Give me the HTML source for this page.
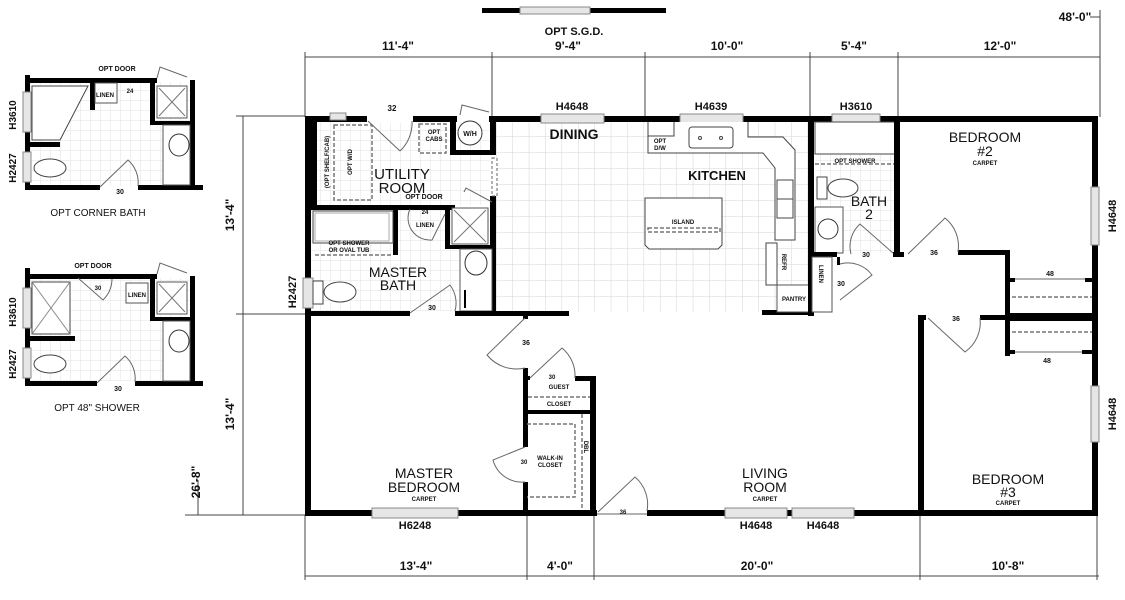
<!DOCTYPE html>
<html><head><meta charset="utf-8"><style>
html,body{margin:0;padding:0;background:#fff;}
svg{display:block;font-family:"Liberation Sans Narrow","Liberation Sans",sans-serif;}
.w{fill:#000}
.t{font-weight:bold;fill:#111;text-anchor:middle}
.t[font-weight="normal"]{font-weight:normal}
.thin{stroke:#444;stroke-width:1;fill:none}
.win{fill:#e6e6e6;stroke:#888;stroke-width:1}
.door{stroke:#666;stroke-width:1;fill:none}
.dash{stroke:#777;stroke-width:1.5;stroke-dasharray:4 2;fill:none}
</style></head><body>
<svg width="1125" height="600" viewBox="0 0 1125 600" xmlns="http://www.w3.org/2000/svg">
<defs>
<pattern id="tile" width="16.4" height="16" patternUnits="userSpaceOnUse" x="496" y="120">
<path d="M0 0H16.4M0 0V16" stroke="#d4d4d4" stroke-width="1" fill="none"/>
</pattern>
<pattern id="tile2" width="10" height="10" patternUnits="userSpaceOnUse">
<path d="M0 0H10M0 0V10" stroke="#e2e2e2" stroke-width="1" fill="none"/>
</pattern>
</defs>

<!-- tile floors -->
<rect x="496" y="122" width="314" height="190" fill="url(#tile)"/>
<rect x="317" y="122" width="173" height="83" fill="url(#tile2)"/>
<rect x="311" y="210" width="179" height="101" fill="url(#tile2)"/>
<rect x="815" y="122" width="83" height="131" fill="url(#tile2)"/>

<!-- OPT SGD -->
<rect x="482" y="8" width="184" height="5" class="w"/>
<rect x="520" y="7" width="70" height="7" class="win"/>
<text x="574" y="35" class="t" font-size="11">OPT S.G.D.</text>

<!-- top dimensions -->
<text x="1075" y="21" class="t" font-size="12">48'-0"</text>
<line x1="1100" y1="10" x2="1100" y2="117" class="thin"/>
<line x1="1090" y1="17" x2="1100" y2="17" class="thin"/>
<line x1="305" y1="57" x2="1100" y2="57" class="thin"/>
<g class="thin">
<line x1="305" y1="52" x2="305" y2="117"/><line x1="492" y1="52" x2="492" y2="117"/>
<line x1="645" y1="52" x2="645" y2="117"/><line x1="810" y1="52" x2="810" y2="117"/>
<line x1="898" y1="52" x2="898" y2="117"/>
</g>
<g class="t" font-size="12">
<text x="398" y="50">11'-4"</text><text x="568" y="50">9'-4"</text>
<text x="727" y="50">10'-0"</text><text x="854" y="50">5'-4"</text>
<text x="1000" y="50">12'-0"</text>
</g>

<!-- bottom dimensions -->
<line x1="305" y1="576" x2="1099" y2="576" class="thin"/>
<g class="thin">
<line x1="305" y1="515" x2="305" y2="580"/><line x1="527" y1="515" x2="527" y2="580"/>
<line x1="594" y1="515" x2="594" y2="580"/><line x1="920" y1="515" x2="920" y2="580"/>
<line x1="1097" y1="515" x2="1097" y2="580"/>
</g>
<g class="t" font-size="12">
<text x="416" y="570">13'-4"</text><text x="560" y="570">4'-0"</text>
<text x="757" y="570">20'-0"</text><text x="1008" y="570">10'-8"</text>
</g>

<!-- left dimensions -->
<line x1="243" y1="116" x2="243" y2="515" class="thin"/>
<line x1="198" y1="480" x2="198" y2="515" class="thin"/>
<line x1="236" y1="116" x2="305" y2="116" class="thin"/>
<line x1="236" y1="314" x2="305" y2="314" class="thin"/>
<line x1="185" y1="515" x2="305" y2="515" class="thin"/>
<text transform="translate(234,215) rotate(-90)" class="t" font-size="12">13'-4"</text>
<text transform="translate(234,414) rotate(-90)" class="t" font-size="12">13'-4"</text>
<text transform="translate(200,482) rotate(-90)" class="t" font-size="12">26'-8"</text>

<!-- OUTER WALLS -->
<rect x="305" y="116" width="793" height="6" class="w"/>
<rect x="305" y="116" width="12" height="90" class="w"/>
<rect x="305" y="116" width="6" height="400" class="w"/>
<rect x="1092" y="116" width="6" height="400" class="w"/>
<rect x="305" y="510" width="793" height="6" class="w"/>

<!-- windows -->
<rect x="541" y="114" width="63" height="9" class="win"/>
<rect x="680" y="114" width="63" height="9" class="win"/>
<rect x="832" y="114" width="48" height="9" class="win"/>
<rect x="330" y="113" width="16" height="7" class="win"/>
<rect x="1091" y="187" width="8" height="58" class="win"/>
<rect x="1091" y="386" width="8" height="56" class="win"/>
<rect x="372" y="508" width="86" height="10" class="win"/>
<rect x="725" y="508" width="62" height="10" class="win"/>
<rect x="792" y="508" width="62" height="10" class="win"/>
<rect x="303" y="278" width="10" height="30" class="win"/>
<g class="t" font-size="11">
<text x="572" y="110">H4648</text><text x="711" y="110">H4639</text><text x="856" y="110">H3610</text>
<text x="392" y="111" font-size="8">32</text>
<text x="415" y="529">H6248</text><text x="756" y="529">H4648</text><text x="823" y="529">H4648</text>
</g>
<text transform="translate(1116,216) rotate(-90)" class="t" font-size="11">H4648</text>
<text transform="translate(1116,414) rotate(-90)" class="t" font-size="11">H4648</text>
<text transform="translate(296,292) rotate(-90)" class="t" font-size="11">H2427</text>

<!-- door gaps in outer wall -->
<rect x="367" y="115" width="46" height="8" fill="#fff"/>
<rect x="457" y="115" width="32" height="8" fill="#fff"/>
<rect x="597" y="509" width="50" height="8" fill="#fff"/>
<line x1="597" y1="514" x2="647" y2="514" class="door"/>

<!-- utility room -->
<rect x="450" y="116" width="6" height="39" class="w"/>
<rect x="450" y="150" width="45" height="5" class="w"/>
<rect x="490" y="116" width="6" height="39" class="w"/>
<rect x="490" y="196" width="6" height="120" class="w"/>
<rect x="492" y="158" width="5" height="38" fill="#fff" stroke="#666" stroke-dasharray="3 2"/>
<rect x="305" y="205" width="150" height="5" class="w"/>
<path d="M368 121 L400 151 M400 151 A38 38 0 0 0 412 121" class="door"/>
<path d="M460 115 L462 105 L489 112" class="door"/>
<circle cx="470" cy="133" r="12" fill="#fff" stroke="#333"/>
<text x="470" y="136" class="t" font-size="7">W/H</text>
<rect x="419" y="124" width="27" height="29" class="dash" stroke-width="1"/>
<text x="434" y="134" class="t" font-size="6">OPT</text><text x="434" y="141" class="t" font-size="6">CABS</text>
<rect x="334" y="125" width="38" height="75" class="dash" stroke-width="1"/>
<text transform="translate(329,162) rotate(-90)" class="t" font-size="6">(OPT SHELF/CAB)</text>
<text transform="translate(352,162) rotate(-90)" class="t" font-size="6">OPT W/D</text>
<text x="402" y="179" class="t" font-size="15" font-weight="normal">UTILITY</text>
<text x="402" y="193" class="t" font-size="15" font-weight="normal">ROOM</text>
<text x="424" y="199" class="t" font-size="7">OPT DOOR</text>
<path d="M464 192 L466 188 L492 202" class="door"/>

<!-- master bath -->
<rect x="393" y="205" width="5" height="50" class="w"/>
<rect x="445" y="205" width="5" height="44" class="w"/>
<rect x="445" y="245" width="50" height="4" class="w"/>
<rect x="452" y="208" width="36" height="36" fill="#fff" stroke="#555"/>
<path d="M454 210 L486 242 M486 210 L454 242" stroke="#777"/>
<rect x="313" y="211" width="80" height="32" fill="#fff" stroke="#444"/>
<rect x="315" y="213" width="74" height="28" fill="none" stroke="#aaa"/>
<path d="M315 255 H392" class="dash" stroke-width="1"/>
<text x="349" y="245" class="t" font-size="6">OPT SHOWER</text>
<text x="349" y="252" class="t" font-size="6">OR OVAL TUB</text>
<path d="M410 209 A22 22 0 0 0 432 240 L445 214" class="door"/>
<text x="425" y="214" class="t" font-size="6">24</text><text x="425" y="227" class="t" font-size="6">LINEN</text>
<rect x="460" y="249" width="32" height="62" fill="#fff" stroke="#555"/>
<ellipse cx="476" cy="263" rx="11" ry="12" fill="#fff" stroke="#333"/>
<rect x="313" y="281" width="10" height="23" fill="#fff" stroke="#444"/>
<ellipse cx="340" cy="292" rx="16" ry="10" fill="#fff" stroke="#444"/>
<text x="398" y="277" class="t" font-size="14" font-weight="normal">MASTER</text>
<text x="398" y="290" class="t" font-size="14" font-weight="normal">BATH</text>
<path d="M410 313 L450 285 A30 30 0 0 1 455 311" class="door"/>
<rect x="464" y="290" width="2" height="18" class="w"/>
<text x="432" y="310" class="t" font-size="7">30</text>

<!-- mid wall -->
<rect x="305" y="311" width="105" height="5" class="w"/>
<rect x="455" y="311" width="114" height="5" class="w"/>
<rect x="523" y="311" width="5" height="8" class="w"/>
<rect x="762" y="310" width="52" height="5" class="w"/>

<!-- dining / kitchen -->
<text x="574" y="139" class="t" font-size="14">DINING</text>
<text x="717" y="180" class="t" font-size="13">KITCHEN</text>
<path d="M648 122 V153 H763 L775 168 V240 H795 V150 L783 137 H748 V122" fill="#fff" stroke="#444"/>
<path d="M648 122 V136 H674 V122" fill="none" stroke="#444"/>
<text x="660" y="143" class="t" font-size="6">OPT</text><text x="660" y="150" class="t" font-size="6">D/W</text>
<rect x="689" y="127" width="44" height="21" rx="3" fill="#fff" stroke="#444"/>
<circle cx="700" cy="138" r="1.5" fill="none" stroke="#444"/><circle cx="721" cy="138" r="1.5" fill="none" stroke="#444"/>
<path d="M777 180 H793 V218 H777 Z M777 199 H793" fill="#fff" stroke="#444"/>
<path d="M645 198 H722 V245 L718 249 H649 L645 245 Z" fill="#fff" stroke="#444"/>
<text x="683" y="224" class="t" font-size="6">ISLAND</text>
<rect x="648" y="228" width="72" height="4" class="dash" stroke-width="1"/>
<rect x="766" y="243" width="11" height="42" fill="#fff" stroke="#444"/>
<text transform="translate(782,262) rotate(90)" class="t" font-size="6">REFR</text>
<rect x="777" y="285" width="33" height="27" fill="#fff" stroke="#555"/>
<text x="794" y="301" class="t" font-size="6">PANTRY</text>
<rect x="808" y="116" width="6" height="200" class="w"/>

<!-- bath 2 -->
<rect x="815" y="122" width="80" height="32" fill="#fff" stroke="#444"/>
<path d="M815 164 H895" class="dash" stroke-width="1"/>
<text x="855" y="163" class="t" font-size="6">OPT SHOWER</text>
<rect x="817" y="177" width="10" height="22" fill="#fff" stroke="#444"/>
<ellipse cx="843" cy="188" rx="15" ry="9" fill="#fff" stroke="#444"/>
<rect x="815" y="207" width="28" height="46" fill="#fff" stroke="#555"/>
<ellipse cx="828" cy="229" rx="10" ry="10" fill="#fff" stroke="#333"/>
<text x="869" y="206" class="t" font-size="14" font-weight="normal">BATH</text>
<text x="869" y="219" class="t" font-size="14" font-weight="normal">2</text>
<rect x="894" y="116" width="6" height="140" class="w"/>
<rect x="810" y="252" width="27" height="5" class="w"/>
<rect x="893" y="252" width="11" height="5" class="w"/>
<path d="M893 253 L860 224 A30 30 0 0 0 851 254" class="door"/>
<text x="866" y="257" class="t" font-size="7">30</text>
<rect x="812" y="257" width="20" height="55" fill="#fff" stroke="#555"/>
<text transform="translate(819,274) rotate(90)" class="t" font-size="6">LINEN</text>
<rect x="837" y="257" width="3" height="8" class="w"/>
<path d="M840 300 L872 275 A30 30 0 0 0 840 264" class="door"/>
<text x="841" y="286" class="t" font-size="7">30</text>

<!-- bedroom 2 -->
<text x="985" y="142" class="t" font-size="14" font-weight="normal">BEDROOM</text>
<text x="985" y="156" class="t" font-size="14" font-weight="normal">#2</text>
<text x="985" y="165" class="t" font-size="6">CARPET</text>
<rect x="958" y="250" width="52" height="5" class="w"/>
<path d="M908 254 L945 218 A36 36 0 0 1 958 252" class="door"/>
<text x="934" y="255" class="t" font-size="7">36</text>
<rect x="1005" y="250" width="5" height="106" class="w"/>
<rect x="1005" y="278" width="10" height="4" class="w"/><rect x="1085" y="278" width="10" height="4" class="w"/>
<path d="M1015 279 H1085" class="door"/>
<text x="1050" y="276" class="t" font-size="7">48</text>
<path d="M1012 297 H1092" class="dash" stroke-width="1"/>
<rect x="1005" y="313" width="90" height="8" class="w"/>
<path d="M1012 332 H1092" class="dash" stroke-width="1"/>
<rect x="1005" y="350" width="10" height="4" class="w"/><rect x="1082" y="350" width="13" height="4" class="w"/>
<path d="M1015 352 H1082" class="door"/>
<text x="1047" y="363" class="t" font-size="7">48</text>

<!-- bedroom 3 -->
<rect x="918" y="315" width="6" height="200" class="w"/>
<rect x="918" y="315" width="8" height="5" class="w"/>
<rect x="980" y="315" width="30" height="5" class="w"/>
<path d="M928 318 L965 352 A36 36 0 0 0 980 318" class="door"/>
<text x="956" y="321" class="t" font-size="7">36</text>
<text x="1008" y="484" class="t" font-size="14" font-weight="normal">BEDROOM</text>
<text x="1008" y="497" class="t" font-size="14" font-weight="normal">#3</text>
<text x="1008" y="505" class="t" font-size="6">CARPET</text>

<!-- master bedroom & closets -->
<rect x="523" y="316" width="5" height="3" class="w"/>
<rect x="523" y="368" width="5" height="79" class="w"/>
<rect x="523" y="482" width="5" height="34" class="w"/>
<path d="M525 318 L487 355 A38 38 0 0 0 525 368" class="door"/>
<text x="526" y="345" class="t" font-size="7">36</text>
<rect x="527" y="376" width="3" height="4" class="w"/>
<rect x="575" y="376" width="21" height="5" class="w"/>
<rect x="590" y="376" width="6" height="140" class="w"/>
<path d="M530 378 L562 348 A36 36 0 0 1 575 378" class="door"/>
<text x="552" y="379" class="t" font-size="6">30</text>
<text x="559" y="389" class="t" font-size="6">GUEST</text>
<path d="M528 397 H590" class="dash" stroke-width="1"/>
<text x="559" y="406" class="t" font-size="6">CLOSET</text>
<rect x="527" y="410" width="64" height="4" class="w"/>
<path d="M527 424 H575 V497 H527 M582 414 V510" class="dash" stroke-width="1"/>
<text transform="translate(584,447) rotate(90)" class="t" font-size="6">DBL</text>
<path d="M525 447 L493 460 A30 30 0 0 0 525 482" class="door"/>
<text x="524" y="464" class="t" font-size="6">30</text>
<text x="550" y="460" class="t" font-size="6">WALK-IN</text>
<text x="550" y="467" class="t" font-size="6">CLOSET</text>
<text x="424" y="478" class="t" font-size="14" font-weight="normal">MASTER</text>
<text x="424" y="492" class="t" font-size="14" font-weight="normal">BEDROOM</text>
<text x="424" y="501" class="t" font-size="6">CARPET</text>

<!-- living -->
<path d="M598 512 L635 477 A36 36 0 0 1 647 511" class="door"/>
<text x="623" y="514" class="t" font-size="6">36</text>
<text x="765" y="478" class="t" font-size="14" font-weight="normal">LIVING</text>
<text x="765" y="492" class="t" font-size="14" font-weight="normal">ROOM</text>
<text x="765" y="501" class="t" font-size="6">CARPET</text>

<!-- INSET 1: OPT CORNER BATH -->
<g>
<rect x="30" y="82" width="160" height="104" fill="url(#tile2)"/>
<rect x="25" y="78" width="132" height="5" class="w"/>
<rect x="25" y="75" width="5" height="115" class="w"/>
<rect x="25" y="185" width="75" height="5" class="w"/>
<rect x="138" y="185" width="65" height="5" class="w"/>
<rect x="190" y="80" width="5" height="110" class="w"/>
<rect x="150" y="80" width="5" height="45" class="w"/>
<rect x="150" y="121" width="42" height="4" class="w"/>
<rect x="157" y="86" width="30" height="32" fill="#fff" stroke="#555"/>
<path d="M159 88 L185 116 M185 88 L159 116" stroke="#777"/>
<path d="M157 78 L160 67 L187 77" class="door"/>
<rect x="90" y="80" width="5" height="30" class="w"/>
<rect x="28" y="142" width="32" height="5" class="w"/>
<path d="M32 86 H88 L60 140 H32 Z" fill="#fff" stroke="#444"/>
<rect x="95" y="83" width="22" height="20" fill="#fff" stroke="#555"/>
<text x="105" y="97" class="t" font-size="6">LINEN</text>
<text x="130" y="93" class="t" font-size="6">24</text>
<text x="117" y="71" class="t" font-size="7">OPT DOOR</text>
<rect x="23" y="92" width="8" height="40" class="win"/>
<rect x="23" y="152" width="8" height="30" class="win"/>
<ellipse cx="50" cy="168" rx="16" ry="9" fill="#fff" stroke="#444"/>
<rect x="163" y="125" width="27" height="60" fill="#fff" stroke="#555"/>
<ellipse cx="179" cy="145" rx="10" ry="11" fill="#fff" stroke="#333"/>
<path d="M100 187 L128 160 A30 30 0 0 1 138 186" class="door"/>
<text x="120" y="194" class="t" font-size="7">30</text>
<text transform="translate(16,115) rotate(-90)" class="t" font-size="10">H3610</text>
<text transform="translate(16,168) rotate(-90)" class="t" font-size="10">H2427</text>
<text x="98" y="216" class="t" font-size="10" font-weight="normal">OPT CORNER BATH</text>
</g>

<!-- INSET 2: OPT 48" SHOWER -->
<g>
<rect x="30" y="278" width="160" height="103" fill="url(#tile2)"/>
<rect x="25" y="274" width="132" height="5" class="w"/>
<rect x="25" y="268" width="5" height="118" class="w"/>
<rect x="25" y="381" width="72" height="5" class="w"/>
<rect x="135" y="381" width="68" height="5" class="w"/>
<rect x="190" y="276" width="5" height="110" class="w"/>
<rect x="150" y="276" width="5" height="45" class="w"/>
<rect x="150" y="317" width="42" height="4" class="w"/>
<rect x="157" y="282" width="30" height="32" fill="#fff" stroke="#555"/>
<path d="M159 284 L185 312 M185 284 L159 312" stroke="#777"/>
<path d="M157 274 L160 263 L187 273" class="door"/>
<rect x="28" y="336" width="47" height="5" class="w"/>
<rect x="32" y="282" width="38" height="52" fill="#fff" stroke="#444"/>
<path d="M32 282 L70 334 M70 282 L32 334" stroke="#888"/>
<path d="M78 278 L103 300 A30 30 0 0 0 112 279" class="door"/>
<text x="98" y="290" class="t" font-size="6">30</text>
<rect x="126" y="283" width="22" height="20" fill="#fff" stroke="#555"/>
<text x="137" y="297" class="t" font-size="6">LINEN</text>
<text x="93" y="268" class="t" font-size="7">OPT DOOR</text>
<rect x="23" y="288" width="8" height="40" class="win"/>
<rect x="23" y="348" width="8" height="30" class="win"/>
<ellipse cx="50" cy="364" rx="16" ry="9" fill="#fff" stroke="#444"/>
<rect x="163" y="321" width="27" height="60" fill="#fff" stroke="#555"/>
<ellipse cx="179" cy="341" rx="10" ry="11" fill="#fff" stroke="#333"/>
<path d="M97 383 L125 356 A30 30 0 0 1 135 382" class="door"/>
<text x="118" y="391" class="t" font-size="7">30</text>
<text transform="translate(16,312) rotate(-90)" class="t" font-size="10">H3610</text>
<text transform="translate(16,364) rotate(-90)" class="t" font-size="10">H2427</text>
<text x="97" y="411" class="t" font-size="10" font-weight="normal">OPT 48" SHOWER</text>
</g>
</svg>
</body></html>
